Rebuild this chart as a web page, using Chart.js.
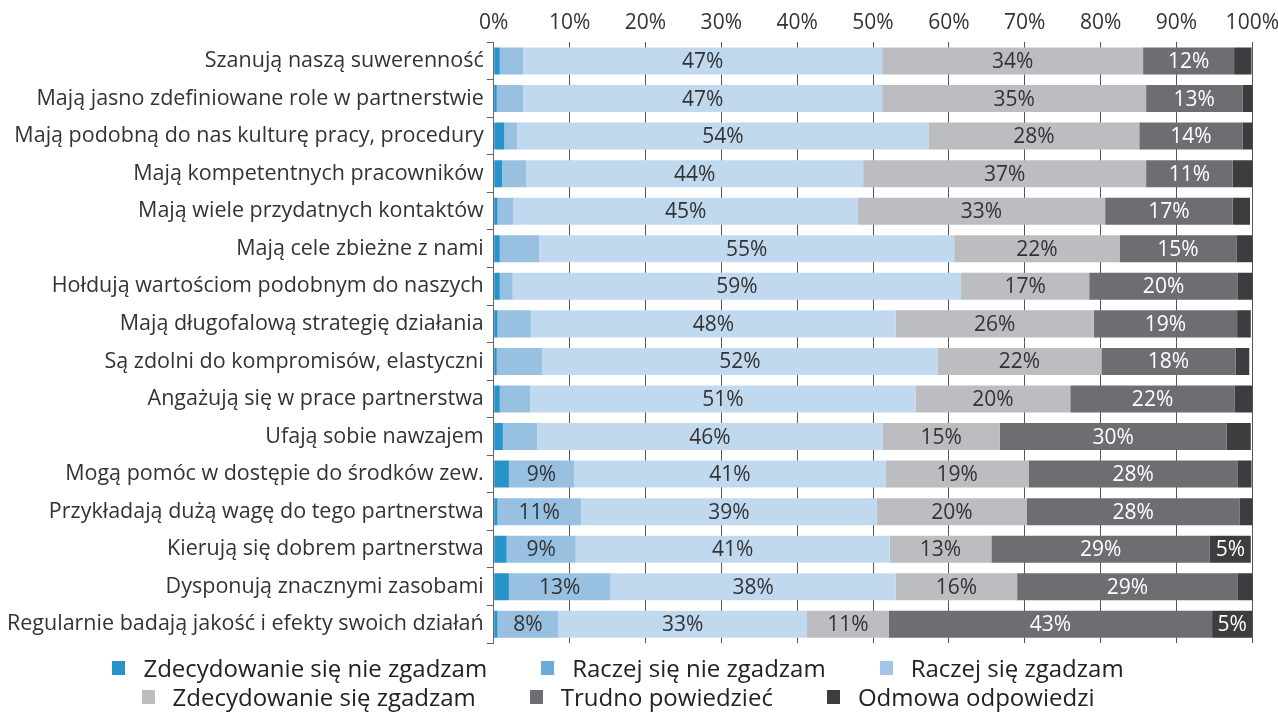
<!DOCTYPE html>
<html>
<head>
<meta charset="utf-8">
<script src="https://cdn.jsdelivr.net/npm/chart.js@4/dist/chart.umd.min.js"></script>
<style>
  html, body { margin: 0; padding: 0; background: #fff; overflow: hidden; }
  #wrap { width: 1278px; height: 713px; position: relative; overflow: hidden; }
  #chart-box { position: absolute; left: 0; top: 0; width: 1286px; height: 659px; }
  .legend-row {
      position: absolute; left: 0; width: 1236px; height: 29px;
      display: flex; justify-content: center; align-items: center;
      font-family: 'Open Sans', sans-serif; font-size: 24px; color: #222;
      white-space: nowrap;
  }
  .legend-item { display: flex; align-items: center; margin: 0 27px; }
  .legend-box { width: 13px; height: 14px; margin-right: 18px; }
</style>
</head>
<body>
<div id="wrap">
  <div id="chart-box"><canvas id="chart"></canvas></div>
  <div class="legend-row" id="legend-1" style="top: 653px;"></div>
  <div class="legend-row" id="legend-2" style="top: 682px;"></div>
</div>
<script>
const categories = [
    'Szanują naszą suwerenność',
    'Mają jasno zdefiniowane role w partnerstwie',
    'Mają podobną do nas kulturę pracy, procedury',
    'Mają kompetentnych pracowników',
    'Mają wiele przydatnych kontaktów',
    'Mają cele zbieżne z nami',
    'Hołdują wartościom podobnym do naszych',
    'Mają długofalową strategię działania',
    'Są zdolni do kompromisów, elastyczni',
    'Angażują się w prace partnerstwa',
    'Ufają sobie nawzajem',
    'Mogą pomóc w dostępie do środków zew.',
    'Przykładają dużą wagę do tego partnerstwa',
    'Kierują się dobrem partnerstwa',
    'Dysponują znacznymi zasobami',
    'Regularnie badają jakość i efekty swoich działań'
];

const seriesNames = [
    'Zdecydowanie się nie zgadzam',
    'Raczej się nie zgadzam',
    'Raczej się zgadzam',
    'Zdecydowanie się zgadzam',
    'Trudno powiedzieć',
    'Odmowa odpowiedzi'
];

const stronglyDisagree = [0.8, 0.4, 1.4, 1.1, 0.5, 0.8, 0.8, 0.5, 0.4, 0.8, 1.2, 2.0, 0.5, 1.7, 2.0, 0.5];
const ratherDisagree   = [3.1, 3.5, 1.7, 3.2, 2.1, 5.2, 1.7, 4.4, 6.0, 4.0, 4.5, 8.6, 11.0, 9.1, 13.4, 8.0];
const ratherAgree      = [47.3, 47.3, 54.2, 44.4, 45.4, 54.7, 59.1, 48.1, 52.1, 50.8, 45.6, 41.1, 39.0, 41.4, 37.6, 32.8];
const stronglyAgree    = [34.4, 34.8, 27.8, 37.3, 32.6, 21.8, 16.9, 26.1, 21.6, 20.4, 15.4, 18.8, 19.8, 13.4, 16.0, 10.8];
const hardToSay        = [12.0, 12.7, 13.6, 11.4, 16.8, 15.4, 19.6, 18.9, 17.7, 21.7, 29.9, 27.6, 28.0, 28.8, 29.1, 42.6];
const refused          = [2.3, 1.4, 1.6, 3.0, 2.3, 2.3, 2.1, 1.8, 1.8, 2.3, 3.2, 1.8, 1.8, 5.4, 2.3, 5.3];

const xTicks = [0, 10, 20, 30, 40, 50, 60, 70, 80, 90, 100];

const barColors    = ['#2694cb', '#98c0e1', '#c1d9ef', '#bcbdc1', '#6d6e72', '#3d3d3f'];
const legendColors = ['#2993cb', '#6aaddc', '#a2c5e7', '#bcbdc1', '#6d6e72', '#3d3d3f'];
const labelColors  = ['#333', '#333', '#333', '#333', '#fff', '#fff'];
const labelMin     = [8, 8, 8, 8, 8, 5];

const allSeries = [stronglyDisagree, ratherDisagree, ratherAgree, stronglyAgree, hardToSay, refused];

const FONT = "'Open Sans', sans-serif";

// legend in two rows, like the original
seriesNames.forEach((name, i) => {
    const row = document.getElementById(i < 3 ? 'legend-1' : 'legend-2');
    const item = document.createElement('div');
    item.className = 'legend-item';
    item.innerHTML = `<span class="legend-box" style="background:${legendColors[i]}"></span><span>${name}</span>`;
    row.appendChild(item);
});

// draws the % numbers inside segments
const segmentLabels = {
    id: 'segmentLabels',
    afterDatasetsDraw(chart) {
        const ctx = chart.ctx;
        ctx.save();
        ctx.font = '21px ' + FONT;
        ctx.textAlign = 'center';
        ctx.textBaseline = 'middle';
        chart.data.datasets.forEach((ds, i) => {
            const meta = chart.getDatasetMeta(i);
            meta.data.forEach((bar, j) => {
                const v = ds.data[j];
                if (v < labelMin[i]) return;
                const x = (bar.x + bar.base) / 2;
                ctx.fillStyle = labelColors[i];
                ctx.fillText(Math.round(v) + '%', x, bar.y + 1);
            });
        });
        ctx.restore();
    }
};

const ctx = document.getElementById('chart').getContext('2d');
new Chart(ctx, {
    type: 'bar',
    data: {
        labels: categories,
        datasets: seriesNames.map((name, i) => ({
            label: name,
            data: allSeries[i],
            backgroundColor: barColors[i],
            borderWidth: 0,
            barPercentage: 0.72,
            categoryPercentage: 1.0
        }))
    },
    options: {
        indexAxis: 'y',
        responsive: true,
        maintainAspectRatio: false,
        animation: false,
        layout: { padding: { left: 4, right: 0, top: 3, bottom: 0 } },
        scales: {
            x: {
                position: 'top',
                stacked: true,
                min: 0,
                max: 100,
                afterBuildTicks: (axis) => { axis.ticks = xTicks.map(v => ({ value: v })); },
                ticks: {
                    color: '#333',
                    font: { family: FONT, size: 21 },
                    padding: 7,
                    maxRotation: 0,
                    callback: (v) => v + '%'
                },
                grid: { color: '#555', lineWidth: 1, drawTicks: false },
                border: { display: false }
            },
            y: {
                stacked: true,
                ticks: {
                    color: '#333',
                    font: { family: FONT, size: 21.5 },
                    padding: 3
                },
                grid: {
                    offset: true,
                    drawOnChartArea: false,
                    drawTicks: true,
                    tickLength: 7,
                    color: '#666'
                },
                border: { display: true, color: '#666', width: 1 }
            }
        },
        plugins: {
            legend: { display: false },
            tooltip: { enabled: false }
        }
    },
    plugins: [segmentLabels]
});
</script>
</body>
</html>
